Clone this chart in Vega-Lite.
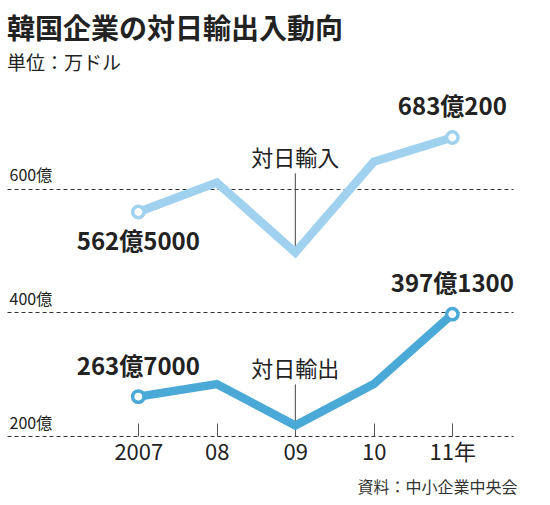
{
  "$schema": "https://vega.github.io/schema/vega-lite/v6.json",
  "autosize": "none",
  "padding": {"left": 7, "top": 127, "right": 37, "bottom": 69},
  "width": 506,
  "height": 309,
  "background": "white",
  "title": {
    "text": "韓国企業の対日輸出入動向",
    "subtitle": "単位：万ドル",
    "anchor": "start",
    "frame": "group",
    "font": "Noto Sans CJK JP",
    "fontSize": 28,
    "fontWeight": "bold",
    "color": "#222222",
    "subtitleFont": "Noto Sans CJK JP",
    "subtitleFontSize": 19,
    "subtitleColor": "#222222",
    "subtitlePadding": 10,
    "offset": 22
  },
  "config": {
    "view": {"stroke": null},
    "font": "Noto Sans CJK JP"
  },
  "data": {
    "values": [
      {"series": "対日輸入", "year": 2007, "value": 562.5, "label": "562億5000"},
      {"series": "対日輸入", "year": 2008, "value": 610},
      {"series": "対日輸入", "year": 2009, "value": 497},
      {"series": "対日輸入", "year": 2010, "value": 644},
      {"series": "対日輸入", "year": 2011, "value": 683.02, "label": "683億200"},
      {"series": "対日輸出", "year": 2007, "value": 263.7, "label": "263億7000"},
      {"series": "対日輸出", "year": 2008, "value": 284},
      {"series": "対日輸出", "year": 2009, "value": 217},
      {"series": "対日輸出", "year": 2010, "value": 284},
      {"series": "対日輸出", "year": 2011, "value": 397.13, "label": "397億1300"}
    ]
  },
  "encoding": {
    "x": {
      "field": "year",
      "type": "quantitative",
      "scale": {"domain": [2005.327, 2011.773], "nice": false, "zero": false},
      "axis": {
        "values": [2007, 2008, 2009, 2010, 2011],
        "labelExpr": "datum.value == 2007 ? '2007' : (datum.value == 2011 ? '11年' : substring(toString(datum.value), 2))",
        "domain": false,
        "grid": false,
        "ticks": true,
        "tickSize": -13,
        "tickColor": "#555555",
        "tickWidth": 1,
        "labelPadding": 19,
        "labelFontSize": 22,
        "labelColor": "#222222",
        "labelFlush": false,
        "labelOverlap": false,
        "title": "資料：中小企業中央会",
        "titleFontSize": 16,
        "titleFontWeight": "normal",
        "titleColor": "#333333",
        "titleAnchor": "end",
        "titleAlign": "right",
        "titleBaseline": "middle",
        "titleX": 510,
        "titleY": 51
      }
    },
    "y": {
      "field": "value",
      "type": "quantitative",
      "scale": {"domain": [200, 700], "nice": false, "zero": false},
      "axis": {
        "values": [200, 400, 600],
        "labelExpr": "datum.value + '億'",
        "domain": false,
        "ticks": false,
        "grid": true,
        "gridDash": [4, 3],
        "gridColor": "#333333",
        "gridWidth": 1,
        "labelAlign": "left",
        "labelBaseline": "bottom",
        "labelPadding": -2,
        "labelOffset": -5,
        "labelFontSize": 16,
        "labelColor": "#222222",
        "labelFlush": false,
        "labelOverlap": false,
        "title": null
      }
    }
  },
  "layer": [
    {
      "data": {
        "values": [
          {"series": "対日輸入", "year": 2009, "from": 497, "to": 625},
          {"series": "対日輸出", "year": 2009, "from": 217, "to": 283.6}
        ]
      },
      "layer": [
        {
          "mark": {"type": "rule", "color": "#444444", "strokeWidth": 1},
          "encoding": {
            "y": {"field": "from", "type": "quantitative"},
            "y2": {"field": "to"}
          }
        },
        {
          "mark": {"type": "text", "baseline": "bottom", "dy": -2, "fontSize": 22, "color": "#222222"},
          "encoding": {
            "y": {"field": "to", "type": "quantitative"},
            "text": {"field": "series"}
          }
        }
      ]
    },
    {
      "mark": {"type": "line", "strokeWidth": 8.5, "strokeJoin": "miter"},
      "encoding": {
        "color": {
          "field": "series",
          "type": "nominal",
          "scale": {"domain": ["対日輸入", "対日輸出"], "range": ["#a0d2f0", "#4aa9d6"]},
          "legend": null
        }
      }
    },
    {
      "transform": [{"filter": "datum.year == 2007 || datum.year == 2011"}],
      "mark": {"type": "point", "filled": false, "fill": "white", "strokeWidth": 3.5, "size": 130, "opacity": 1},
      "encoding": {
        "color": {"field": "series", "type": "nominal", "legend": null}
      }
    },
    {
      "transform": [{"filter": "datum.series == '対日輸入' && datum.year == 2007"}],
      "mark": {"type": "text", "baseline": "middle", "dy": 31, "fontSize": 24, "fontWeight": "bold", "color": "#222222"},
      "encoding": {"text": {"field": "label"}}
    },
    {
      "transform": [{"filter": "isValid(datum.label) && !(datum.series == '対日輸入' && datum.year == 2007)"}],
      "mark": {"type": "text", "baseline": "middle", "dy": -29, "fontSize": 24, "fontWeight": "bold", "color": "#222222"},
      "encoding": {"text": {"field": "label"}}
    }
  ]
}
